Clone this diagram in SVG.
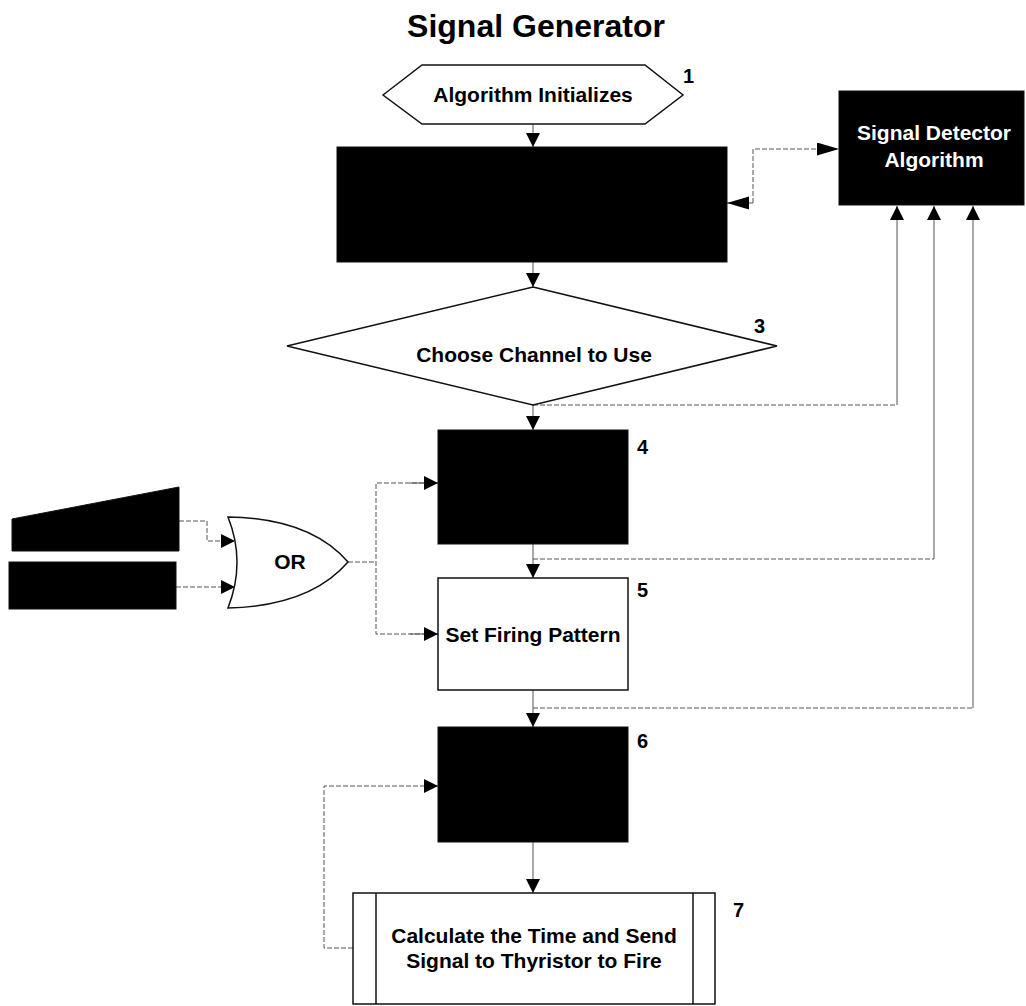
<svg xmlns="http://www.w3.org/2000/svg" width="1026" height="1006" viewBox="0 0 1026 1006">
  <defs>
    <style>
      .lbl { font-family: "Liberation Sans", Arial, sans-serif; font-weight: bold; font-size: 21px; fill: #000; text-anchor: middle; }
      .num { font-family: "Liberation Sans", Arial, sans-serif; font-weight: bold; font-size: 20px; fill: #000; }
      .title { font-family: "Liberation Sans", Arial, sans-serif; font-weight: bold; font-size: 32px; fill: #000; text-anchor: middle; }
      .white { fill: #fff; }
      .shape { fill: #fff; stroke: #111; stroke-width: 1.5; }
      .solid { fill: #000; stroke: #111; stroke-width: 1; }
      .conn { fill: none; stroke: #555; stroke-width: 1; }
      .dash { stroke-dasharray: 5 2; }
    </style>
    <marker id="arr" markerUnits="userSpaceOnUse" markerWidth="14" markerHeight="14" refX="14" refY="7" orient="auto">
      <path d="M0,0 L14,7 L0,14 Z" fill="#000"/>
    </marker>
    <marker id="arrLong" markerUnits="userSpaceOnUse" markerWidth="22" markerHeight="14" refX="22" refY="6.5" orient="auto">
      <path d="M0,0 L22,6.5 L0,13 Z" fill="#000"/>
    </marker>
  </defs>

  <rect width="1026" height="1006" fill="#fff"/>

  <text class="title" x="536" y="37">Signal Generator</text>

  <!-- connectors -->
  <g id="connectors">
    <line class="conn" x1="533" y1="124" x2="533" y2="147" marker-end="url(#arr)"/>
    <line class="conn" x1="533" y1="262" x2="533" y2="287" marker-end="url(#arr)"/>
    <!-- two-way link between step 2 and the detector -->
    <polyline class="conn dash" points="753,203 753,149 839,149" marker-end="url(#arrLong)"/>
    <line class="conn" x1="753" y1="203" x2="727" y2="203" marker-end="url(#arrLong)"/>
    <line class="conn" x1="533" y1="405" x2="533" y2="430" marker-end="url(#arr)"/>
    <polyline class="conn dash" points="533,405 897,405"/>
    <line class="conn" x1="897" y1="405" x2="897" y2="206" marker-end="url(#arr)"/>
    <line class="conn" x1="533" y1="544" x2="533" y2="578" marker-end="url(#arr)"/>
    <polyline class="conn dash" points="533,559 934,559"/>
    <line class="conn" x1="934" y1="559" x2="934" y2="206" marker-end="url(#arr)"/>
    <line class="conn" x1="533" y1="690" x2="533" y2="727" marker-end="url(#arr)"/>
    <polyline class="conn dash" points="533,708 973,708"/>
    <line class="conn" x1="973" y1="708" x2="973" y2="206" marker-end="url(#arr)"/>
    <line class="conn" x1="533" y1="842" x2="533" y2="893" marker-end="url(#arr)"/>
    <!-- feedback loop from step 7 back to step 6 -->
    <polyline class="conn dash" points="353,948 324,948 324,786 438,786" marker-end="url(#arr)"/>
    <!-- inputs into the OR gate -->
    <polyline class="conn dash" points="179,521 207,521 207,541 235,541" marker-end="url(#arr)"/>
    <polyline class="conn dash" points="176,587 235,587" marker-end="url(#arr)"/>
    <!-- OR output to steps 4 and 5 -->
    <polyline class="conn dash" points="348,562 376,562"/>
    <polyline class="conn dash" points="438,483 376,483 376,634 438,634"/>
    <line class="conn" x1="410" y1="483" x2="438" y2="483" marker-end="url(#arr)"/>
    <line class="conn" x1="410" y1="634" x2="438" y2="634" marker-end="url(#arr)"/>
  </g>

  <g id="node1">
    <polygon class="shape" points="383,95 422,65 645,65 683,95 645,124 422,124"/>
    <text class="lbl" x="533" y="102">Algorithm Initializes</text>
    <text class="num" x="683" y="83">1</text>
  </g>

  <g id="node2">
    <rect class="solid" x="337" y="147" width="390" height="115"/>
  </g>

  <g id="detector">
    <rect class="solid" x="839" y="91" width="185" height="114"/>
    <text class="lbl white" x="934" y="140">Signal Detector</text>
    <text class="lbl white" x="934" y="167">Algorithm</text>
  </g>

  <g id="node3">
    <polygon class="shape" points="533,287 777,346 533,405 287,346"/>
    <text class="lbl" x="534" y="362">Choose Channel to Use</text>
    <text class="num" x="754" y="333">3</text>
  </g>

  <g id="node4">
    <rect class="solid" x="438" y="430" width="190" height="114"/>
    <text class="num" x="637" y="454">4</text>
  </g>

  <g id="node5">
    <rect class="shape" x="438" y="578" width="190" height="112"/>
    <text class="lbl" x="533" y="642">Set Firing Pattern</text>
    <text class="num" x="637" y="597">5</text>
  </g>

  <g id="node6">
    <rect class="solid" x="438" y="727" width="190" height="115"/>
    <text class="num" x="637" y="748">6</text>
  </g>

  <g id="node7">
    <rect class="shape" x="353" y="893" width="362" height="111"/>
    <line class="shape" x1="376" y1="893" x2="376" y2="1004"/>
    <line class="shape" x1="693" y1="893" x2="693" y2="1004"/>
    <text class="lbl" x="534" y="943">Calculate the Time and Send</text>
    <text class="lbl" x="534" y="968">Signal to Thyristor to Fire</text>
    <text class="num" x="733" y="917">7</text>
  </g>

  <g id="inputA">
    <polygon class="solid" points="12,519 179,487 179,551 12,551"/>
  </g>

  <g id="inputB">
    <rect class="solid" x="9" y="562" width="167" height="47"/>
  </g>

  <g id="orGate">
    <path class="shape" d="M228,517 Q246,562 228,608 Q310,606 348,562 Q310,518 228,517 Z"/>
    <text class="lbl" x="290" y="569">OR</text>
  </g>
</svg>
